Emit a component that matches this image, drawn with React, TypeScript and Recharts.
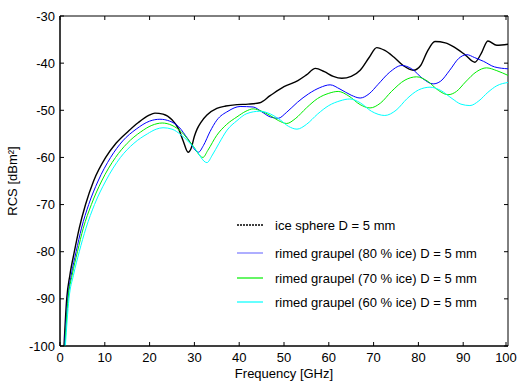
import { LineChart, Line, XAxis, YAxis, Label, ReferenceArea } from 'recharts'

// ice sphere D = 5 mm
const FREQ_ICE = [0.9, 1.5, 2.2, 3.2, 4.3, 5.7, 7.5, 10.2, 12.5, 15.3, 17.5, 19.8, 21.2, 23, 25, 26.5, 27.5, 28.6, 29.3, 30, 30.6, 31.5, 32.8, 35, 37, 39.5, 42, 44.6, 46.9, 50, 53.1, 55, 57, 59, 61, 62.9, 65, 67, 69, 70.7, 72.5, 74.5, 76.6, 78.9, 80.5, 82, 83.7, 86, 88, 90.5, 92.6, 94, 95.5, 97.5, 100]
const RCS_ICE = [-100, -90, -85, -80, -75, -70, -65, -60, -57, -54.4, -52.6, -51.1, -50.6, -50.8, -52, -54, -56.5, -58.9, -58, -55.5, -54, -52.5, -51, -49.6, -49.1, -48.8, -48.7, -48.4, -46.9, -45, -43.7, -42.5, -41.1, -41.8, -42.8, -43.2, -42.8, -41.5, -38.8, -36.7, -37.3, -38.7, -40.5, -41.5, -40.5, -37.5, -35.4, -35.7, -36.6, -38.3, -39.8, -38, -35.3, -36.2, -36]

// rimed graupel 80 % ice
const FREQ_80 = [1, 1.7, 2.5, 3.6, 4.8, 6.4, 8.5, 11.3, 14, 17, 20, 22.3, 24.5, 26.5, 28.5, 30.9, 32, 33.5, 35, 37.5, 40.2, 43.1, 45, 46.9, 48.7, 50.5, 53, 55.5, 58, 60.3, 62.5, 65, 67, 69, 71, 73.5, 76.3, 78.5, 81, 83.3, 85, 87, 89, 90.8, 92.5, 94.5, 97, 100]
const RCS_80 = [-100, -90, -85, -80, -75, -70, -65, -60, -56.5, -54, -52.3, -51.9, -52.3, -53.5, -56, -58.9, -57.5, -54.5, -52.1, -50.2, -49.2, -49.3, -50.3, -51.4, -51.7, -50.5, -48.3, -46.5, -45.2, -44.6, -45.5, -46.8, -47.4, -46.5, -44.5, -42, -40.5, -41.2, -43.3, -44.4, -43.8, -41.5, -39, -38.2, -38.8, -39.6, -40.8, -41.2]

// rimed graupel 70 % ice
const FREQ_70 = [1.1, 1.8, 2.7, 3.9, 5.2, 7, 9.3, 12.4, 15, 18, 20.5, 22.8, 25, 27, 29.5, 31.9, 33, 35, 37.2, 39.5, 41.5, 43.1, 45, 46.9, 48.8, 50.6, 52.5, 55, 57.5, 60, 62.1, 64.5, 67, 69.2, 71.5, 74, 77, 79.6, 82, 84.5, 86.6, 88.5, 90.5, 93, 95.2, 97.5, 100]
const RCS_70 = [-100, -90, -85, -80, -75, -70, -65, -60, -57, -54.6, -53.2, -52.7, -53.2, -54.5, -57.3, -60, -58.5, -55.3, -53, -51.4, -50.2, -49.7, -50.2, -51.1, -52.2, -52.8, -51.8, -49.5, -47.5, -46.4, -46, -47, -48.8, -49.5, -48.5, -46, -43.6, -42.9, -43.8, -45.8, -46.7, -46, -44, -41.8, -41, -41.6, -42.6]

// rimed graupel 60 % ice
const FREQ_60 = [1.2, 2, 3, 4.3, 5.8, 7.7, 10.2, 13.5, 16.5, 19.5, 21.5, 23, 25, 27, 30, 32.8, 34, 35.5, 37.3, 39.5, 41.7, 44.6, 47, 49.1, 51, 52.9, 55, 57.5, 60, 62.5, 64.7, 67, 69.5, 72.5, 75, 77.5, 80, 82.6, 85, 87.5, 89.5, 91.5, 93.5, 95.5, 97.5, 100]
const RCS_60 = [-100, -90, -85, -80, -75, -70, -65, -60, -57, -55, -54, -53.7, -54, -55.2, -58, -61.1, -59.5, -57, -54.2, -52.2, -50.7, -50.2, -50.8, -52, -53.4, -54, -53, -50.8, -49, -48, -47.6, -48.4, -50.2, -51.1, -50, -47.5, -45.7, -45.1, -45.8, -47.5, -48.7, -49, -48, -46.2, -44.8, -44.1]

const X_TICKS = [0, 10, 20, 30, 40, 50, 60, 70, 80, 90, 100]
const Y_TICKS = [-100, -90, -80, -70, -60, -50, -40, -30]

const FONT = '"Liberation Sans", Arial, sans-serif'
const PLOT_TOP = 16
const PLOT_BOTTOM = 346
const PLOT_LEFT = 60
const PLOT_RIGHT = 508

const zip = (f: number[], v: number[]) => f.map((x, i) => ({ f: x, v: v[i] }))

const series = [
  { name: 'ice sphere D = 5 mm', color: '#000000', width: 1.4, dash: '2 1', data: zip(FREQ_ICE, RCS_ICE) },
  { name: 'rimed graupel (80 % ice) D = 5 mm', color: '#0000ff', width: 1, dash: undefined, data: zip(FREQ_80, RCS_80) },
  { name: 'rimed graupel (70 % ice) D = 5 mm', color: '#00ee00', width: 1, dash: undefined, data: zip(FREQ_70, RCS_70) },
  { name: 'rimed graupel (60 % ice) D = 5 mm', color: '#00ffff', width: 1, dash: undefined, data: zip(FREQ_60, RCS_60) },
]

function XTick({ x, payload }: any) {
  return (
    <g>
      <line x1={x} x2={x} y1={PLOT_BOTTOM} y2={PLOT_BOTTOM - 4} stroke="#000" />
      <line x1={x} x2={x} y1={PLOT_TOP} y2={PLOT_TOP + 4} stroke="#000" />
      <text x={x} y={PLOT_BOTTOM + 16} textAnchor="middle" fontSize={13} fontFamily={FONT} fill="#000">
        {payload.value}
      </text>
    </g>
  )
}

function YTick({ y, payload }: any) {
  return (
    <g>
      <line x1={PLOT_LEFT} x2={PLOT_LEFT + 4} y1={y} y2={y} stroke="#000" />
      <line x1={PLOT_RIGHT} x2={PLOT_RIGHT - 4} y1={y} y2={y} stroke="#000" />
      <text x={PLOT_LEFT - 5} y={y + 4.5} textAnchor="end" fontSize={13} fontFamily={FONT} fill="#000">
        {payload.value}
      </text>
    </g>
  )
}

const LEGEND_ROWS = [225, 253, 278, 302]

export default function App() {
  return (
    <div style={{ position: 'absolute', left: 0, top: 0, width: 518, height: 383, background: '#fff' }}>
      <LineChart
        width={518}
        height={383}
        margin={{ top: PLOT_TOP, right: 518 - PLOT_RIGHT, left: 0, bottom: 0 }}
      >
        <XAxis
          dataKey="f"
          type="number"
          domain={[0, 100]}
          ticks={X_TICKS}
          height={37}
          tick={<XTick />}
          tickLine={false}
          axisLine={{ stroke: '#000' }}
          allowDataOverflow
        >
          <Label value="Frequency [GHz]" position="insideBottom" offset={5} style={{ fontSize: 13, fontFamily: FONT, fill: '#000' }} />
        </XAxis>
        <YAxis
          type="number"
          domain={[-100, -30]}
          ticks={Y_TICKS}
          width={PLOT_LEFT}
          tick={<YTick />}
          tickLine={false}
          axisLine={{ stroke: '#000' }}
          allowDataOverflow
        >
          <Label value="RCS [dBm²]" angle={-90} position="insideLeft" offset={12} style={{ fontSize: 13, fontFamily: FONT, fill: '#000', textAnchor: 'middle' }} />
        </YAxis>
        {series.map((s) => (
          <Line
            key={s.name}
            data={s.data}
            dataKey="v"
            type="monotone"
            stroke={s.color}
            strokeWidth={s.width}
            dot={false}
            activeDot={false}
            isAnimationActive={false}
          />
        ))}
        <ReferenceArea x1={0} x2={100} y1={-100} y2={-30} fill="none" stroke="#000" strokeWidth={1} />
      </LineChart>
      <svg width={518} height={383} style={{ position: 'absolute', left: 0, top: 0, pointerEvents: 'none' }}>
        {series.map((s, i) => (
          <g key={s.name}>
            <line
              x1={237}
              x2={263}
              y1={LEGEND_ROWS[i]}
              y2={LEGEND_ROWS[i]}
              stroke={i === 1 ? '#7878ff' : s.color}
              strokeWidth={i === 0 ? 1.5 : 1.2}
              strokeDasharray={s.dash}
            />
            <text x={275} y={LEGEND_ROWS[i] + 4.5} fontSize={13} fontFamily={FONT} fill="#000">
              {s.name}
            </text>
          </g>
        ))}
      </svg>
    </div>
  )
}
